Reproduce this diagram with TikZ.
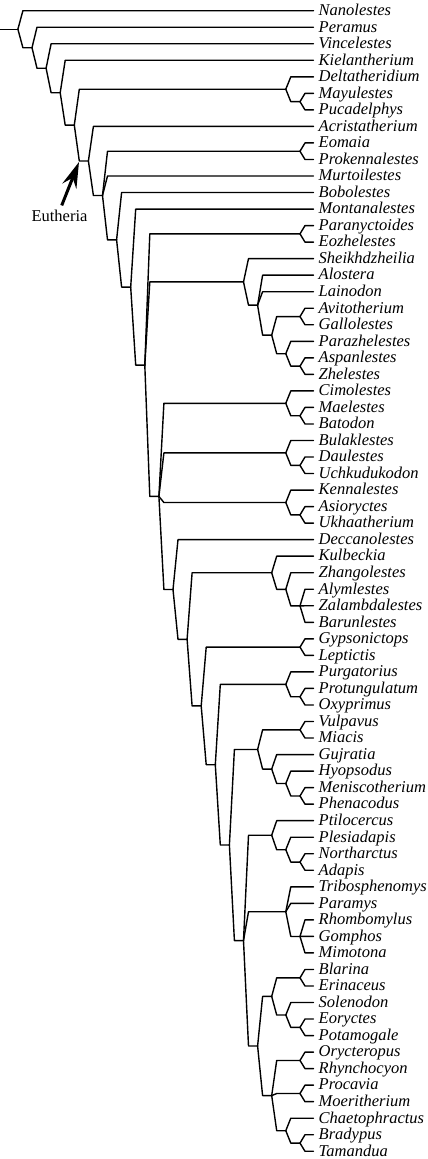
\documentclass[tikz,border=0pt]{standalone}
\usepackage{fontspec}
\setmainfont{Liberation Serif}
\usetikzlibrary{arrows.meta}
\newcommand\tkids[2]{\foreach \c in {#2}{\draw[branch] (#1) -- ([xshift=5pt]#1 |- \c) -- (\c);}}
\begin{document}
\begin{tikzpicture}[x=1pt,y=-1pt,
 branch/.style={line width=1.4pt, line join=round, line cap=round},
 leaf/.style={anchor=west, inner xsep=5pt, inner ysep=0pt, text height=9.6pt, text depth=0pt, font=\fontsize{16.5}{18}\selectfont\itshape},
 lbl/.style={inner sep=0pt, text height=10.6pt, text depth=0pt, font=\fontsize{16.5}{18}\selectfont},
 arr/.style={line width=3pt, -{Stealth[length=26pt,width=15pt,inset=9pt]}, shorten <=6pt}]
\useasboundingbox (0,0) rectangle (428,1159);
\foreach \n [count=\i] in {Nanolestes,Peramus,Vincelestes,Kielantherium,Deltatheridium,Mayulestes,Pucadelphys,Acristatherium,Eomaia,Prokennalestes,Murtoilestes,Bobolestes,Montanalestes,Paranyctoides,Eozhelestes,Sheikhdzheilia,Alostera,Lainodon,Avitotherium,Gallolestes,Parazhelestes,Aspanlestes,Zhelestes,Cimolestes,Maelestes,Batodon,Bulaklestes,Daulestes,Uchkudukodon,Kennalestes,Asioryctes,Ukhaatherium,Deccanolestes,Kulbeckia,Zhangolestes,Alymlestes,Zalambdalestes,Barunlestes,Gypsonictops,Leptictis,Purgatorius,Protungulatum,Oxyprimus,Vulpavus,Miacis,Gujratia,Hyopsodus,Meniscotherium,Phenacodus,Ptilocercus,Plesiadapis,Northarctus,Adapis,Tribosphenomys,Paramys,Rhombomylus,Gomphos,Mimotona,Blarina,Erinaceus,Solenodon,Eoryctes,Potamogale,Orycteropus,Rhynchocyon,Procavia,Moeritherium,Chaetophractus,Bradypus,Tamandua}
  \node[leaf] (L\i) at (313.5,{10.7+16.53*(\i-1)}) {\n};

\coordinate (base) at (0,29.2);
\coordinate (R) at (17.9,29.2);
\coordinate (A1) at (32,47.7);
\coordinate (A2) at (46.1,68.25);
\coordinate (A3) at (60.2,92.7);
\coordinate (A4) at (74.3,125.1);
\coordinate (Gdelta) at (285.8,89.2);
\coordinate (PMP) at (300,101.65);
\coordinate (A5) at (88.4,161.0);
\coordinate (A6) at (102.5,195.5);
\coordinate (PEP) at (300,151.25);
\coordinate (A7) at (116.6,239.8);
\coordinate (A8) at (130.7,287.1);
\coordinate (A9) at (144.8,365.1);
\coordinate (PPE) at (300,233.85);
\coordinate (Zh) at (243.5,281.9);
\coordinate (Z2) at (257.6,305.15);
\coordinate (Z3) at (271.7,335.1);
\coordinate (PAG) at (300,316.55);
\coordinate (GPark) at (285.8,353.7);
\coordinate (PAZ) at (300,366.15);
\coordinate (C) at (158.9,496.4);
\coordinate (GCim) at (285.8,403.3);
\coordinate (PMB) at (300,415.75);
\coordinate (GBul) at (285.8,452.9);
\coordinate (PDU) at (300,465.35);
\coordinate (GKen) at (285.8,502.5);
\coordinate (PAU) at (300,514.9);
\coordinate (D) at (173,589.5);
\coordinate (D2) at (187.1,639.3);
\coordinate (GKul) at (271.7,572.75);
\coordinate (GZha) at (285.8,589.3);
\coordinate (TAZB) at (300,605.85);
\coordinate (D3) at (201.2,705.9);
\coordinate (PGL) at (300,647.15);
\coordinate (D4) at (215.3,764.7);
\coordinate (GPur) at (285.8,684.4);
\coordinate (PPO) at (300,696.75);
\coordinate (D5) at (229.4,845.0);
\coordinate (GFer) at (257.6,749.45);
\coordinate (PVM) at (300,729.85);
\coordinate (GGuj) at (271.7,769.05);
\coordinate (GHyo) at (285.8,783.5);
\coordinate (PMPh) at (300,795.95);
\coordinate (D6) at (243.5,940.6);
\coordinate (GPti) at (271.7,835.2);
\coordinate (GPle) at (285.8,849.7);
\coordinate (PNA) at (300,862.05);
\coordinate (GGli) at (285.8,911.7);
\coordinate (TRGM) at (300,936.45);
\coordinate (D7) at (257.6,1046.0);
\coordinate (GLip) at (271.7,996.4);
\coordinate (PBE) at (300,977.8);
\coordinate (GSol) at (285.8,1015.0);
\coordinate (PEPo) at (300,1027.35);
\coordinate (D8) at (271.7,1095.6);
\coordinate (POR) at (300,1060.45);
\coordinate (PPM) at (300,1093.5);
\coordinate (GXen) at (285.8,1130.7);
\coordinate (PBT) at (300,1143.1);

\draw[branch] (base) -- (R);
\tkids{R}{L1.west,A1}
\tkids{A1}{L2.west,A2}
\tkids{A2}{L3.west,A3}
\tkids{A3}{L4.west,A4}
\tkids{A4}{Gdelta,A5}
\tkids{Gdelta}{L5.west,PMP}
\tkids{PMP}{L6.west,L7.west}
\tkids{A5}{L8.west,A6}
\tkids{A6}{PEP,L11.west,A7}
\tkids{PEP}{L9.west,L10.west}
\tkids{A7}{L12.west,A8}
\tkids{A8}{L13.west,A9}
\tkids{A9}{PPE,Zh,C}
\tkids{PPE}{L14.west,L15.west}
\tkids{Zh}{L16.west,Z2}
\tkids{Z2}{L17.west,L18.west,Z3}
\tkids{Z3}{PAG,GPark}
\tkids{PAG}{L19.west,L20.west}
\tkids{GPark}{L21.west,PAZ}
\tkids{PAZ}{L22.west,L23.west}
\tkids{C}{GCim,GBul,GKen,D}
\tkids{GCim}{L24.west,PMB}
\tkids{PMB}{L25.west,L26.west}
\tkids{GBul}{L27.west,PDU}
\tkids{PDU}{L28.west,L29.west}
\tkids{GKen}{L30.west,PAU}
\tkids{PAU}{L31.west,L32.west}
\tkids{D}{L33.west,D2}
\tkids{D2}{GKul,D3}
\tkids{GKul}{L34.west,GZha}
\tkids{GZha}{L35.west,TAZB}
\tkids{TAZB}{L36.west,L37.west,L38.west}
\tkids{D3}{PGL,D4}
\tkids{PGL}{L39.west,L40.west}
\tkids{D4}{GPur,D5}
\tkids{GPur}{L41.west,PPO}
\tkids{PPO}{L42.west,L43.west}
\tkids{D5}{GFer,D6}
\tkids{GFer}{PVM,GGuj}
\tkids{PVM}{L44.west,L45.west}
\tkids{GGuj}{L46.west,GHyo}
\tkids{GHyo}{L47.west,PMPh}
\tkids{PMPh}{L48.west,L49.west}
\tkids{D6}{GPti,GGli,D7}
\tkids{GPti}{L50.west,GPle}
\tkids{GPle}{L51.west,PNA}
\tkids{PNA}{L52.west,L53.west}
\tkids{GGli}{L54.west,L55.west,TRGM}
\tkids{TRGM}{L56.west,L57.west,L58.west}
\tkids{D7}{GLip,D8}
\tkids{GLip}{PBE,GSol}
\tkids{PBE}{L59.west,L60.west}
\tkids{GSol}{L61.west,PEPo}
\tkids{PEPo}{L62.west,L63.west}
\tkids{D8}{POR,PPM,GXen}
\tkids{POR}{L64.west,L65.west}
\tkids{PPM}{L66.west,L67.west}
\tkids{GXen}{L68.west,PBT}
\tkids{PBT}{L69.west,L70.west}

\node[lbl] (eut) at (59.5,216.5) {Eutheria};
\coordinate (tip) at (79,162);
\draw[arr] (eut.north) -- (tip);
\end{tikzpicture}
\end{document}
